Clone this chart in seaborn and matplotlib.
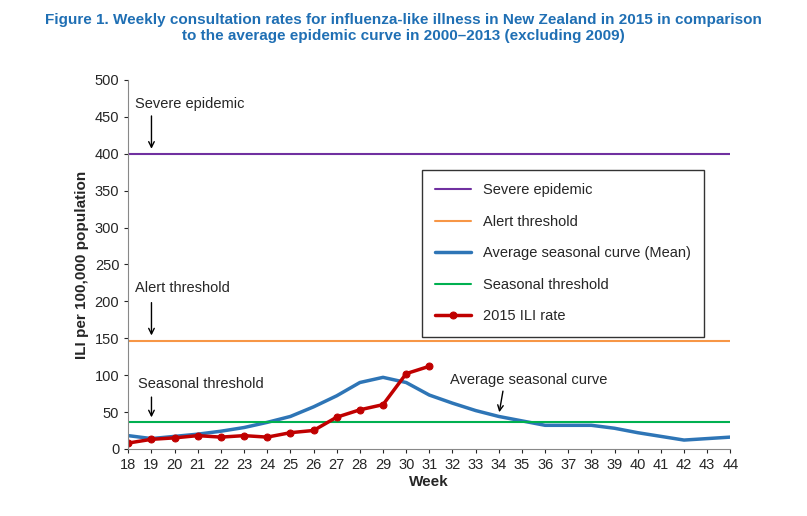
import matplotlib
matplotlib.use('Agg')
import matplotlib.pyplot as plt
import seaborn as sns
import pandas as pd

weeks = list(range(18, 45))
avg_curve = [18, 14, 17, 20, 24, 29, 36, 44, 57, 72, 90, 97, 90, 73, 62, 52, 44, 38,
             32, 32, 32, 28, 22, 17, 12, 14, 16]
weeks_2015 = list(range(18, 32))
ili_2015 = [8, 13, 15, 18, 16, 18, 16, 22, 25, 43, 53, 60, 102, 112]
severe = 400
alert = 146
seasonal = 36

sns.set_style('white')
plt.rcParams['font.family'] = ['Liberation Sans', 'DejaVu Sans']

fig = plt.figure(figsize=(8.07, 5.16), dpi=100)
ax = fig.add_axes([0.159, 0.13, 0.746, 0.715])

ax.axhline(severe, color='#7030a0', lw=1.5, label='Severe epidemic')
ax.axhline(alert, color='#f79646', lw=1.5, label='Alert threshold')
avg_df = pd.DataFrame({'week': weeks, 'rate': avg_curve})
sns.lineplot(data=avg_df, x='week', y='rate', ax=ax, color='#2e75b6', lw=2.5,
             label='Average seasonal curve (Mean)')
ax.axhline(seasonal, color='#00b050', lw=1.5, label='Seasonal threshold')
df15 = pd.DataFrame({'week': weeks_2015, 'rate': ili_2015})
sns.lineplot(data=df15, x='week', y='rate', ax=ax, color='#c00000', lw=2.5,
             marker='o', markersize=5, markeredgecolor='#c00000', label='2015 ILI rate')

ax.set_xlim(18, 44)
ax.set_ylim(0, 500)
ax.set_xticks(weeks)
ax.set_yticks(range(0, 501, 50))
ax.tick_params(labelsize=10.5, length=3, direction='out', bottom=True, left=True)
for s in ['top', 'right']:
    ax.spines[s].set_visible(False)
for s in ['left', 'bottom']:
    ax.spines[s].set_color('#888888')
ax.set_xlabel('Week', fontsize=11, fontweight='bold', labelpad=2)
ax.set_ylabel('ILI per 100,000 population', fontsize=11, fontweight='bold')

leg = ax.legend(loc='upper left', bbox_to_anchor=(0.475, 0.775), fontsize=10.5,
                frameon=True, fancybox=False, edgecolor='#333333', framealpha=1,
                borderpad=0.9, labelspacing=1.2, handlelength=2.5)

arrow = dict(arrowstyle='->', color='black', lw=1)
ax.text(18.3, 462, 'Severe epidemic', fontsize=10.5)
ax.annotate('', xy=(19, 403), xytext=(19, 455), arrowprops=arrow)
ax.text(18.3, 213, 'Alert threshold', fontsize=10.5)
ax.annotate('', xy=(19, 150), xytext=(19, 202), arrowprops=arrow)
ax.text(18.4, 82, 'Seasonal threshold', fontsize=10.5)
ax.annotate('', xy=(19, 39), xytext=(19, 74), arrowprops=arrow)
ax.text(31.9, 88, 'Average seasonal curve', fontsize=10.5)
ax.annotate('', xy=(34, 46), xytext=(34.2, 82), arrowprops=arrow)

fig.text(0.5, 0.945, 'Figure 1. Weekly consultation rates for influenza-like illness in New Zealand in 2015 in comparison\n'
         'to the average epidemic curve in 2000\u20132013 (excluding 2009)',
         ha='center', va='center', fontsize=11, fontweight='bold', color='#1f6fb4')

fig.savefig('out.png', dpi=100)
